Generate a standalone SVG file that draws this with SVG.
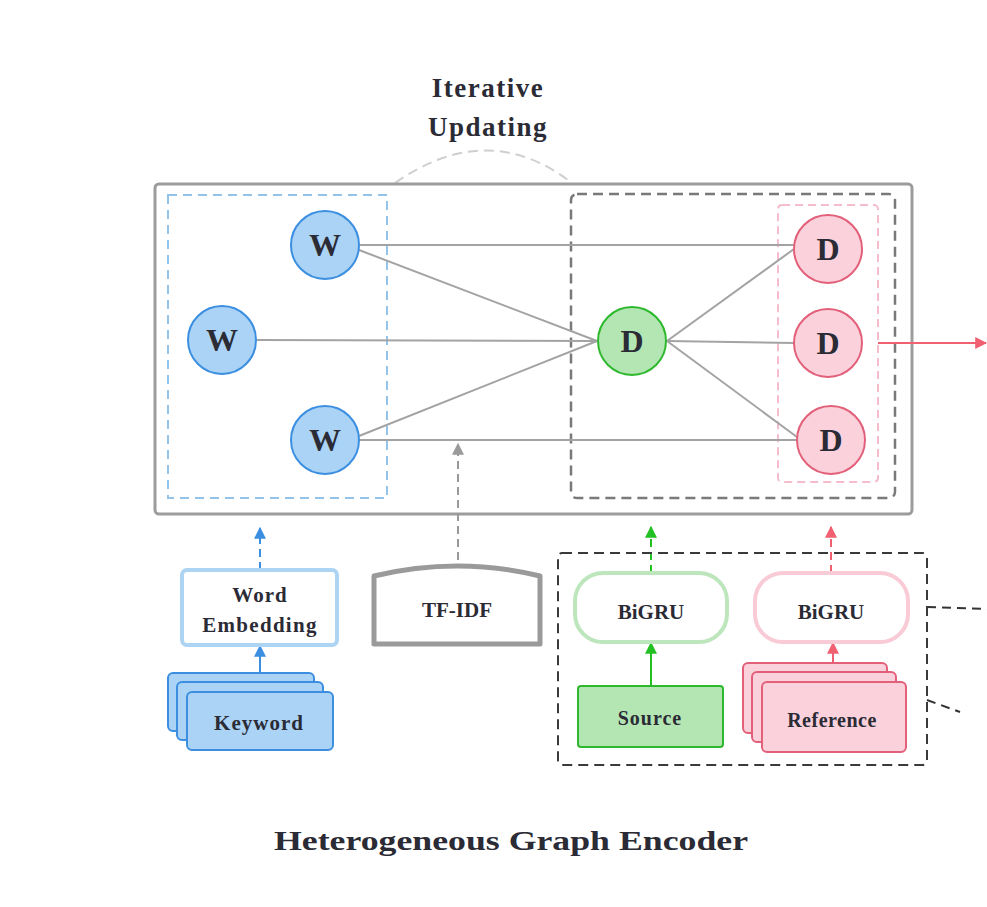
<svg xmlns="http://www.w3.org/2000/svg" width="987" height="907" viewBox="0 0 987 907">
<defs>
<style>
text{font-family:'Liberation Serif','Times New Roman',Times,serif;font-weight:700;fill:#2b2b35;text-anchor:middle}
.edge{stroke:#a3a3a3;stroke-width:2;fill:none}
.wn{fill:#aad3f5;stroke:#3c8fe0;stroke-width:2}
.gn{fill:#b4e6b4;stroke:#2eb82e;stroke-width:2}
.pn{fill:#fbd1dc;stroke:#e2607a;stroke-width:2}
</style>
<marker id="ab" viewBox="0 0 10 10" refX="9" refY="5" markerWidth="6" markerHeight="6" orient="auto"><path d="M0,0L10,5L0,10z" fill="#3c8fe0"/></marker>
<marker id="ag" viewBox="0 0 10 10" refX="9" refY="5" markerWidth="6" markerHeight="6" orient="auto"><path d="M0,0L10,5L0,10z" fill="#22c022"/></marker>
<marker id="ap" viewBox="0 0 10 10" refX="9" refY="5" markerWidth="6" markerHeight="6" orient="auto"><path d="M0,0L10,5L0,10z" fill="#f06070"/></marker>
<marker id="agr" viewBox="0 0 10 10" refX="9" refY="5" markerWidth="6" markerHeight="6" orient="auto"><path d="M0,0L10,5L0,10z" fill="#9a9a9a"/></marker>
</defs>
<rect width="987" height="907" fill="#ffffff"/>

<g id="iterative-label">
<text font-family="Liberation Serif, serif" x="488" y="97" font-size="27" letter-spacing="1.5">Iterative</text>
<text font-family="Liberation Serif, serif" x="488" y="136" font-size="27" letter-spacing="1.5">Updating</text>
<path d="M395,183 Q488,118 572,183" fill="none" stroke="#cfcfcf" stroke-width="2" stroke-dasharray="10,6"/>
</g>

<g id="graph-box">
<rect x="155" y="184" width="757" height="330" rx="4" fill="none" stroke="#9c9c9c" stroke-width="3"/>
<rect x="168" y="195" width="219" height="303" fill="none" stroke="#94c3ea" stroke-width="2" stroke-dasharray="9,6"/>
<rect x="571" y="194" width="324" height="304" rx="6" fill="none" stroke="#7a7a7a" stroke-width="2.5" stroke-dasharray="10,6"/>
<rect x="778" y="205" width="100" height="277" rx="4" fill="none" stroke="#f5bccb" stroke-width="2" stroke-dasharray="8,5"/>
</g>

<g id="connectors">
<line class="edge" x1="360" y1="245" x2="794" y2="245"/>
<line class="edge" x1="359" y1="250" x2="597" y2="341"/>
<line class="edge" x1="257" y1="340" x2="597" y2="341"/>
<line class="edge" x1="359" y1="436" x2="597" y2="341"/>
<line class="edge" x1="360" y1="440" x2="797" y2="440"/>
<line class="edge" x1="667" y1="341" x2="794" y2="249"/>
<line class="edge" x1="667" y1="341" x2="794" y2="343"/>
<line class="edge" x1="667" y1="341" x2="797" y2="437"/>
<line x1="878" y1="343" x2="986" y2="343" stroke="#f06070" stroke-width="2" marker-end="url(#ap)"/>
<line x1="458" y1="560" x2="458" y2="444" stroke="#9a9a9a" stroke-width="2" stroke-dasharray="8,5" marker-end="url(#agr)"/>
<line x1="260" y1="570" x2="260" y2="528" stroke="#3c8fe0" stroke-width="2" stroke-dasharray="8,5" marker-end="url(#ab)"/>
<line x1="260" y1="673" x2="260" y2="646" stroke="#3c8fe0" stroke-width="2" marker-end="url(#ab)"/>
<line x1="651" y1="573" x2="651" y2="527" stroke="#22c022" stroke-width="2" stroke-dasharray="8,5" marker-end="url(#ag)"/>
<line x1="651" y1="686" x2="651" y2="643" stroke="#22c022" stroke-width="2" marker-end="url(#ag)"/>
<line x1="831" y1="573" x2="831" y2="527" stroke="#f06070" stroke-width="2" stroke-dasharray="8,5" marker-end="url(#ap)"/>
<line x1="833" y1="663" x2="833" y2="643" stroke="#f06070" stroke-width="2" marker-end="url(#ap)"/>
<path d="M927,607 L987,609" fill="none" stroke="#333" stroke-width="2" stroke-dasharray="9,6"/>
<path d="M927,700 L960,712" fill="none" stroke="#333" stroke-width="2" stroke-dasharray="9,6"/>
</g>

<g id="w-top"><circle class="wn" cx="325" cy="245" r="34"/><text x="325" y="256" font-size="32">W</text></g>
<g id="w-mid"><circle class="wn" cx="222" cy="340" r="34"/><text x="222" y="351" font-size="32">W</text></g>
<g id="w-bot"><circle class="wn" cx="325" cy="440" r="34"/><text x="325" y="451" font-size="32">W</text></g>
<g id="d-source"><circle class="gn" cx="632" cy="341" r="34"/><text x="632" y="352" font-size="32">D</text></g>
<g id="d-ref-1"><circle class="pn" cx="828" cy="249" r="34"/><text x="828" y="260" font-size="32">D</text></g>
<g id="d-ref-2"><circle class="pn" cx="828" cy="343" r="34"/><text x="828" y="354" font-size="32">D</text></g>
<g id="d-ref-3"><circle class="pn" cx="831" cy="440" r="34"/><text x="831" y="451" font-size="32">D</text></g>

<g id="word-embedding">
<rect x="182" y="570" width="155" height="75" rx="5" fill="#fff" stroke="#aed4f3" stroke-width="4"/>
<text x="260" y="602" font-size="21" letter-spacing="1">Word</text>
<text x="260" y="632" font-size="21" letter-spacing="1.3">Embedding</text>
</g>

<g id="keyword">
<rect x="168" y="673" width="146" height="58" rx="5" fill="#aad3f5" stroke="#3c8fe0" stroke-width="2"/>
<rect x="177" y="682" width="146" height="58" rx="5" fill="#aad3f5" stroke="#3c8fe0" stroke-width="2"/>
<rect x="187" y="692" width="146" height="58" rx="5" fill="#aad3f5" stroke="#3c8fe0" stroke-width="2"/>
<text x="259" y="730" font-size="21" letter-spacing="1">Keyword</text>
</g>

<g id="tf-idf">
<path d="M374,576 Q457,556 540,576 L540,644 L374,644 Z" fill="#fff" stroke="#9a9a9a" stroke-width="5" stroke-linejoin="round"/>
<text x="457" y="617" font-size="21">TF-IDF</text>
</g>

<g id="encoder-box">
<rect x="558" y="553" width="369" height="212" rx="4" fill="none" stroke="#3a3a3a" stroke-width="2" stroke-dasharray="10,6"/>
</g>

<g id="bigru-source">
<rect x="575" y="573" width="152" height="69" rx="28" fill="#fff" stroke="#bde6bd" stroke-width="4"/>
<text x="651" y="619" font-size="21">BiGRU</text>
</g>

<g id="bigru-reference">
<rect x="755" y="573" width="153" height="69" rx="28" fill="#fff" stroke="#f8cbd6" stroke-width="4"/>
<text x="831" y="619" font-size="21">BiGRU</text>
</g>

<g id="source">
<rect x="578" y="686" width="145" height="61" rx="3" fill="#b4e6b4" stroke="#2eb82e" stroke-width="2"/>
<text x="650" y="725" font-size="20" letter-spacing="1">Source</text>
</g>

<g id="reference">
<rect x="743" y="663" width="144" height="70" rx="5" fill="#fbd1dc" stroke="#e2607a" stroke-width="2"/>
<rect x="752" y="672" width="144" height="70" rx="5" fill="#fbd1dc" stroke="#e2607a" stroke-width="2"/>
<rect x="762" y="682" width="144" height="70" rx="5" fill="#fbd1dc" stroke="#e2607a" stroke-width="2"/>
<text x="832" y="727" font-size="20" letter-spacing="0.5">Reference</text>
</g>

<g id="title">
<text x="511" y="850" font-size="28" textLength="474" lengthAdjust="spacingAndGlyphs">Heterogeneous Graph Encoder</text>
</g>
</svg>
